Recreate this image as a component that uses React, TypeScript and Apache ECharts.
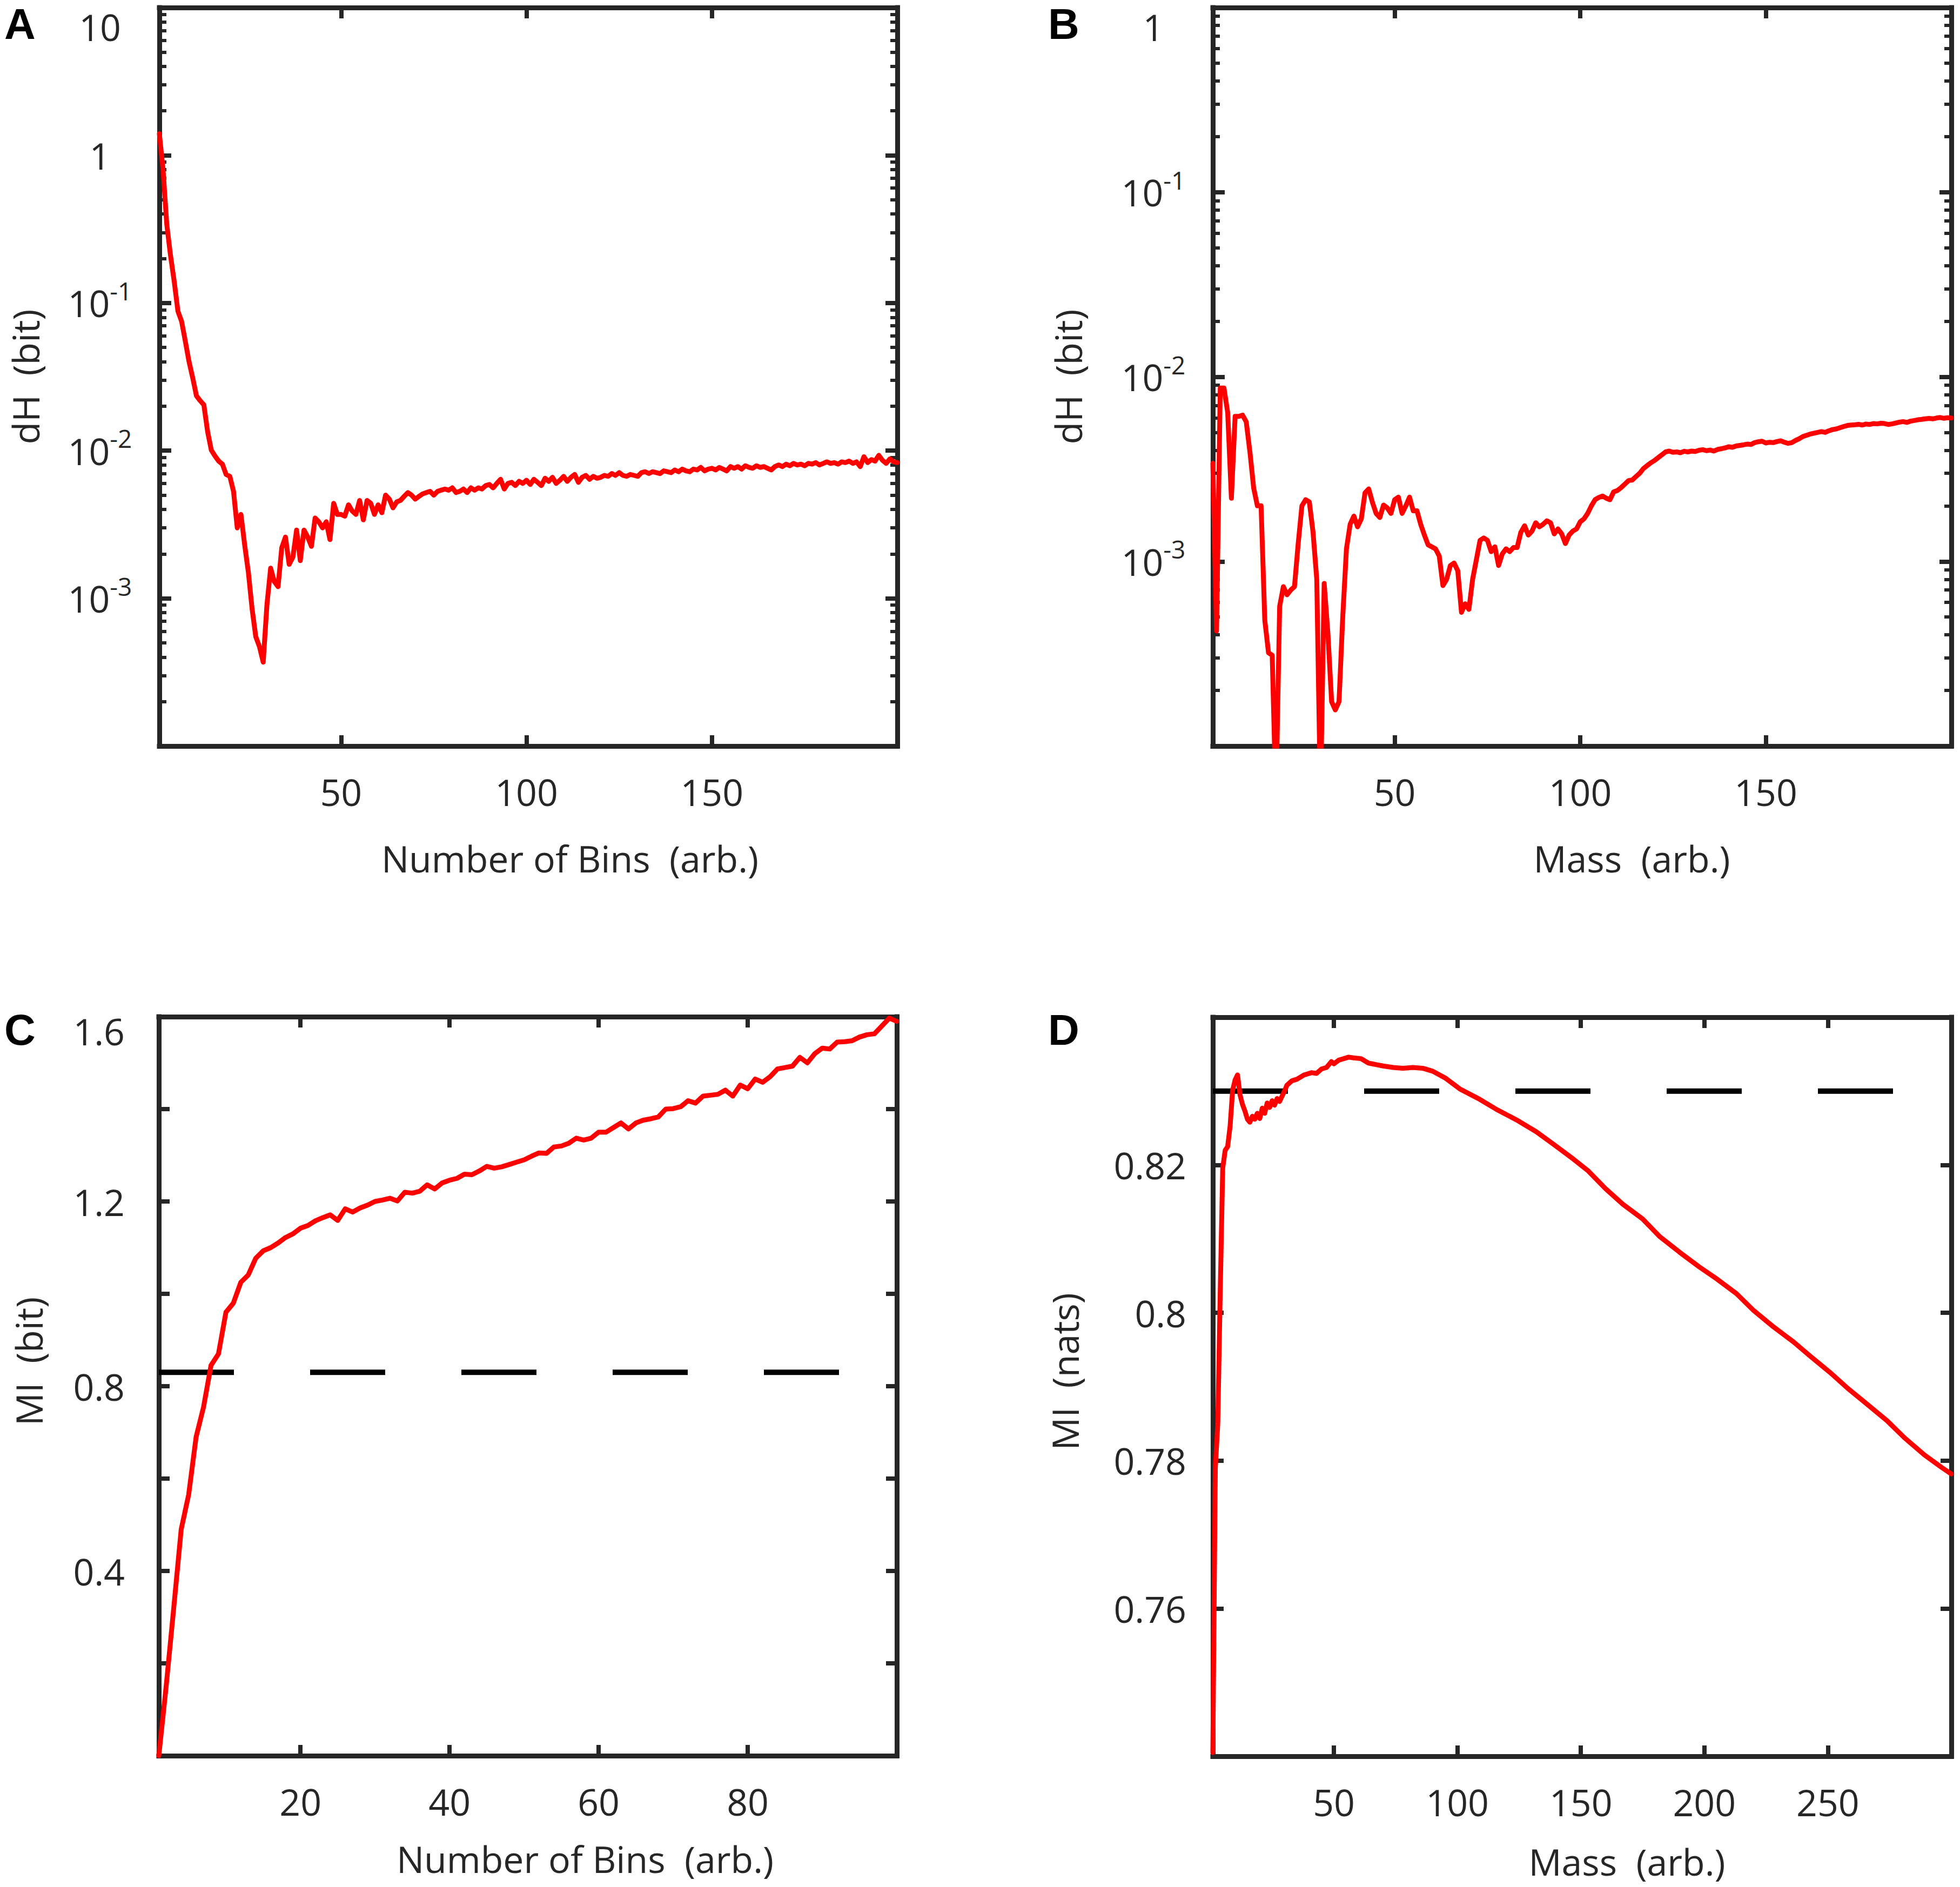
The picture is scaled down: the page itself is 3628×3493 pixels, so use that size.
import React, { useEffect, useRef } from 'react';
import * as echarts from 'echarts';

// ---------- Panel A: dH (bit) vs Number of Bins (1..200) ----------
const aDH = [
  1.40, 0.80, 0.34, 0.21, 0.14, 0.088, 0.075, 0.055, 0.040, 0.031,
  0.0235, 0.0218, 0.0204, 0.0135, 0.0101, 0.0092, 0.0085, 0.0081, 0.0069, 0.0067,
  0.0053, 0.0030, 0.0037, 0.0023, 0.0015, 0.00085, 0.00055, 0.00047, 0.00037, 0.0009,
  0.0016, 0.0013, 0.0012, 0.0022, 0.0026, 0.0017, 0.0019, 0.0029, 0.0018, 0.0029,
  0.0026, 0.00225, 0.0035, 0.0033, 0.0030, 0.0033, 0.0025, 0.0044, 0.0037, 0.0037,
  0.0036, 0.0043, 0.0039, 0.0037, 0.0046, 0.0034, 0.0046, 0.0044, 0.0037, 0.0043,
  0.0038, 0.0050, 0.0047, 0.0041, 0.0045, 0.0046, 0.0049, 0.0052, 0.0050, 0.0047,
  0.0049, 0.0051, 0.0052, 0.0053, 0.0050, 0.0053, 0.0054, 0.0055, 0.0054, 0.0056,
  0.0052, 0.0053, 0.0055, 0.0052, 0.0056, 0.0054, 0.0056, 0.0055, 0.0058, 0.0059,
  0.0056, 0.0060, 0.0064, 0.0055, 0.0060, 0.0061, 0.0058, 0.0062, 0.0060, 0.0063,
  0.0059, 0.0064, 0.0061, 0.0058, 0.0065, 0.0062, 0.0066, 0.0060, 0.0063, 0.0067,
  0.0062, 0.0066, 0.0069, 0.0061, 0.0066, 0.0068, 0.0064, 0.0067, 0.0065, 0.0066,
  0.0068, 0.0067, 0.0070, 0.0068, 0.0071, 0.0068, 0.0067, 0.0069, 0.0068, 0.0067,
  0.0071, 0.0072, 0.0070, 0.0072, 0.0071, 0.0070, 0.0073, 0.0072, 0.0071, 0.0074,
  0.0072, 0.0075, 0.0073, 0.0072, 0.0075, 0.0074, 0.0077, 0.0073, 0.0075, 0.0076,
  0.0074, 0.0077, 0.0075, 0.0073, 0.0078, 0.0076, 0.0078, 0.0075, 0.0079, 0.0077,
  0.0076, 0.0079, 0.0077, 0.0078, 0.0076, 0.0074, 0.0078, 0.0080, 0.0078, 0.0081,
  0.0079, 0.0082, 0.0080, 0.0081, 0.0079, 0.0082, 0.0081, 0.0083, 0.0080, 0.0082,
  0.0084, 0.0082, 0.0083, 0.0081, 0.0084, 0.0083, 0.0085, 0.0082, 0.0084, 0.0078,
  0.0091, 0.0083, 0.0087, 0.0085, 0.0093, 0.0086, 0.0082, 0.0088, 0.0084, 0.0083,
];
const aBins = aDH.map((_, i) => i + 1);
const aXTicks = [50, 100, 150];
const aYMajor = [1e-4, 1e-3, 1e-2, 1e-1, 1, 10];
const aYLabels = [1e-3, 1e-2, 1e-1, 1];
const aYTopLabel = [10];

// ---------- Panel B: dH (bit) vs Mass (1..200) ----------
const bDH = [
  0.0034, 0.00042, 0.0087, 0.0087, 0.0064, 0.0022, 0.0061, 0.0061, 0.0062, 0.0057,
  0.0039, 0.0025, 0.0020, 0.0020, 0.00048, 0.00032, 0.00031, 0.00005, 0.00057, 0.00073,
  0.00066, 0.00070, 0.00073, 0.00125, 0.0020, 0.00216, 0.0021, 0.00144, 0.0008, 0.00005,
  0.00076, 0.00041, 0.000174, 0.000157, 0.000174, 0.0005, 0.00117, 0.00159, 0.00176, 0.00154,
  0.0017, 0.00235, 0.00247, 0.00209, 0.00182, 0.00173, 0.00202, 0.00195, 0.00182, 0.00216,
  0.00223, 0.00182, 0.0020, 0.00223, 0.00188, 0.00188, 0.00159, 0.00139, 0.00123, 0.0012,
  0.00117, 0.00107, 0.00074, 0.0008, 0.00095, 0.00098, 0.00089, 0.00053, 0.00059, 0.00055,
  0.0008, 0.00102, 0.0013, 0.00134, 0.0013, 0.00113, 0.0012, 0.00095, 0.0011, 0.00117,
  0.00113, 0.00119, 0.00119, 0.00144, 0.00156, 0.00139, 0.00146, 0.00162, 0.00154, 0.00159,
  0.00166, 0.00162, 0.00141, 0.0015, 0.00141, 0.00125, 0.00139, 0.00146, 0.0015, 0.00164,
  0.00170, 0.00182, 0.00200, 0.00216, 0.00222, 0.00226, 0.00220, 0.00216, 0.00238, 0.00242,
  0.00251, 0.00262, 0.00274, 0.00276, 0.00288, 0.00300, 0.00318, 0.00330, 0.00342, 0.00352,
  0.00365, 0.00378, 0.00392, 0.00396, 0.00390, 0.00392, 0.00388, 0.00395, 0.00392, 0.00396,
  0.00394, 0.00400, 0.00403, 0.00398, 0.00401, 0.00396, 0.00404, 0.00408, 0.00412, 0.00418,
  0.00415, 0.00422, 0.00425, 0.00428, 0.00432, 0.00430, 0.00440, 0.00445, 0.00448, 0.00438,
  0.00442, 0.00440, 0.00446, 0.00450, 0.00442, 0.00436, 0.00440, 0.00452, 0.00462, 0.00475,
  0.00482, 0.00490, 0.00495, 0.00500, 0.00505, 0.00500, 0.00510, 0.00518, 0.00522, 0.00530,
  0.00538, 0.00545, 0.00548, 0.00550, 0.00553, 0.00548, 0.00555, 0.00552, 0.00558, 0.00556,
  0.00560, 0.00558, 0.00552, 0.00556, 0.00562, 0.00568, 0.00572, 0.00566, 0.00575, 0.00580,
  0.00585, 0.00588, 0.00592, 0.00595, 0.00592, 0.00598, 0.00602, 0.00596, 0.00600, 0.00598,
];
const bMass = bDH.map((_, i) => i + 1);
const bXTicks = [50, 100, 150];
const bYMajor = [1e-4, 1e-3, 1e-2, 1e-1, 1];
const bYLabels = [1e-3, 1e-2, 1e-1];
const bYTopLabel = [1];

// ---------- Panel C: MI (bit) vs Number of Bins (1..100) ----------
const cMI = [
  0, 0.153, 0.32, 0.49, 0.565, 0.69, 0.755, 0.845, 0.87, 0.96,
  0.98, 1.025, 1.041, 1.077, 1.093, 1.10, 1.11, 1.122, 1.13, 1.142,
  1.148, 1.158, 1.165, 1.171, 1.159, 1.184, 1.177, 1.186, 1.192, 1.200,
  1.203, 1.207, 1.201, 1.220, 1.218, 1.222, 1.236, 1.227, 1.240, 1.246,
  1.25, 1.259, 1.258, 1.266, 1.276, 1.272, 1.275, 1.28, 1.285, 1.29,
  1.298, 1.305, 1.304, 1.318, 1.32, 1.326, 1.337, 1.333, 1.337, 1.35,
  1.35, 1.36, 1.37, 1.357, 1.37, 1.376, 1.379, 1.383, 1.40, 1.401,
  1.405, 1.418, 1.413, 1.428, 1.43, 1.432, 1.441, 1.428, 1.452, 1.444,
  1.465, 1.458, 1.47, 1.487, 1.49, 1.493, 1.512, 1.50, 1.52, 1.532,
  1.53, 1.545, 1.546, 1.548, 1.556, 1.561, 1.563, 1.58, 1.597, 1.59,
];
const cBins = cMI.map((_, i) => i + 1);
const cRef = 0.83;
const cXTicks = [20, 40, 60, 80];
const cYTicks = [0.2, 0.4, 0.6, 0.8, 1.0, 1.2, 1.4];
const cYLabels = [0.4, 0.8, 1.2];
const cYTopLabel = [1.6];

// ---------- Panel D: MI (nats) vs Mass (1..300) ----------
const dMass = [
  1, 2, 3, 4, 5, 6, 7, 8, 9, 10, 11, 12, 13, 14, 15, 16, 17, 18, 19, 20,
  21, 22, 23, 24, 25, 26, 27, 28, 29, 30, 31, 33, 35, 38, 41, 43, 45, 47, 49, 50,
  52, 54, 56, 58, 61, 64, 67, 70, 74, 78, 82, 86, 90, 95, 101, 109, 116, 124, 132, 139,
  147, 153, 160, 167, 175, 182, 190, 198, 205, 213, 220, 228, 236, 243, 251, 258, 266, 274, 281, 289,
  296, 300,
];
const dMI = [
  0.7405, 0.779, 0.785, 0.803, 0.8196, 0.822, 0.8225, 0.8253, 0.8301, 0.8315,
  0.8322, 0.8295, 0.8282, 0.8273, 0.8262, 0.8258, 0.8266, 0.8262, 0.8270, 0.8263,
  0.8277, 0.8270, 0.8284, 0.8278, 0.8287, 0.8281, 0.8290, 0.8286, 0.8293, 0.8300,
  0.8308, 0.8314, 0.8316, 0.8322, 0.8325, 0.8324, 0.8330, 0.8332, 0.8340, 0.8337,
  0.8342, 0.8344, 0.8346, 0.8345, 0.8344, 0.8338, 0.8336, 0.8334, 0.8332, 0.8331,
  0.8332, 0.8331, 0.8327, 0.8318, 0.8303, 0.8289, 0.8275, 0.8261, 0.8245, 0.8228,
  0.8208, 0.8192, 0.8168, 0.8147, 0.8127, 0.8103, 0.8082, 0.8062, 0.8046, 0.8026,
  0.8003, 0.7981, 0.7961, 0.7941, 0.7919, 0.7898, 0.7876, 0.7854, 0.7831, 0.7808,
  0.7791, 0.7782,
];
const dRef = 0.83;
const dXTicks = [50, 100, 150, 200, 250];
const dYTicks = [0.76, 0.78, 0.8, 0.82];
const dYLabels = [0.76, 0.78, 0.8, 0.82];

// ---------- styling ----------
const INK = '#262626';
const FONT = 'Open Sans';
const FS = 68;
const AXW = 9;
const TKW = 8;

function logMinors(fromExp: number, toExp: number) {
  const out: number[] = [];
  for (let k = fromExp; k < toExp; k++) {
    for (let m = 2; m <= 9; m++) out.push(+(m * Math.pow(10, k)).toPrecision(3));
  }
  return out;
}

function xPair(gridIndex: number, min: number, max: number, ticks: number[], name: string, nameGap: number, shift: number) {
  const base: any = {
    type: 'value', gridIndex, min, max,
    splitLine: { show: false },
    axisLine: { show: true, onZero: false, lineStyle: { color: INK, width: AXW, cap: 'square' } },
    axisTick: { show: true, inside: true, length: 20, customValues: ticks, lineStyle: { color: INK, width: TKW } },
  };
  return [
    {
      ...base, position: 'bottom',
      axisLabel: { show: true, customValues: ticks, margin: 50, color: INK, fontFamily: FONT, fontSize: FS },
      name, nameLocation: 'middle', nameGap,
      nameTextStyle: { color: INK, fontFamily: FONT, fontSize: FS, align: 'center', verticalAlign: 'middle', padding: [0, 0, 0, shift * 2] },
    },
    { ...base, position: 'top', axisLabel: { show: false } },
  ];
}

function supLabel(v: number) {
  const e = Math.round(Math.log10(v));
  if (e >= 0) return String(Math.round(v));
  return '{b|10}{s|' + e + '}';
}

// label-only axis for the top-most tick label, which sits just below the top edge
function topLabelAxis(type: string, gridIndex: number, min: number, max: number, labels: number[], margin: number, align: string, lineHeight: number, fmt: (v: number) => string) {
  const ax: any = {
    type, gridIndex, min, max, position: 'left', splitLine: { show: false },
    axisLine: { show: false }, axisTick: { show: false },
    axisLabel: {
      show: true, customValues: labels, margin, align, verticalAlign: 'top', lineHeight,
      color: INK, fontFamily: FONT, fontSize: FS, formatter: fmt,
    },
  };
  if (type === 'log') ax.logBase = 10;
  return ax;
}

function logYAxes(gridIndex: number, min: number, max: number, major: number[], labels: number[], top: number[], minors: number[], name: string, nameGap: number) {
  const common: any = { type: 'log', logBase: 10, gridIndex, min, max, splitLine: { show: false } };
  const line = { show: true, onZero: false, lineStyle: { color: INK, width: AXW, cap: 'square' } };
  const majTick = { show: true, inside: true, length: 22, customValues: major, lineStyle: { color: INK, width: TKW } };
  const minTick = { show: true, inside: true, length: 13, customValues: minors, lineStyle: { color: INK, width: 6 } };
  return [
    {
      ...common, position: 'left', axisLine: line, axisTick: majTick,
      axisLabel: {
        show: true, customValues: labels, margin: 110, align: 'center', color: INK, fontFamily: FONT, fontSize: FS,
        formatter: supLabel,
        rich: {
          b: { fontFamily: FONT, fontSize: FS, color: INK, lineHeight: 92 },
          s: { fontFamily: FONT, fontSize: 46, color: INK, lineHeight: 46, verticalAlign: 'top' },
        },
      },
      name, nameLocation: 'middle', nameGap,
      nameTextStyle: { color: INK, fontFamily: FONT, fontSize: FS, align: 'center', verticalAlign: 'middle' },
    },
    { ...common, position: 'left', axisLine: { show: false }, axisTick: minTick, axisLabel: { show: false } },
    { ...common, position: 'right', axisLine: line, axisTick: majTick, axisLabel: { show: false } },
    { ...common, position: 'right', axisLine: { show: false }, axisTick: minTick, axisLabel: { show: false } },
    topLabelAxis('log', gridIndex, min, max, top, 110, 'center', 70, supLabel),
  ];
}

function linYAxes(gridIndex: number, min: number, max: number, ticks: number[], labels: number[], top: number[], margin: number, fmt: (v: number) => string, name: string, nameGap: number, shift: number) {
  const common: any = {
    type: 'value', gridIndex, min, max, splitLine: { show: false },
    axisLine: { show: true, onZero: false, lineStyle: { color: INK, width: AXW, cap: 'square' } },
    axisTick: { show: true, inside: true, length: 20, customValues: ticks, lineStyle: { color: INK, width: TKW } },
  };
  const axes: any[] = [
    {
      ...common, position: 'left',
      axisLabel: { show: true, customValues: labels, margin, color: INK, fontFamily: FONT, fontSize: FS, formatter: fmt },
      name, nameLocation: 'middle', nameGap,
      nameTextStyle: { color: INK, fontFamily: FONT, fontSize: FS, align: 'center', verticalAlign: 'middle', padding: [0, 0, 0, shift * 2] },
    },
    { ...common, position: 'right', axisLabel: { show: false } },
  ];
  if (top.length) axes.push(topLabelAxis('value', gridIndex, min, max, top, margin, 'right', 52, fmt));
  return axes;
}

function redLine(xAxisIndex: number, yAxisIndex: number, xs: number[], ys: number[]) {
  return {
    type: 'line', xAxisIndex, yAxisIndex, data: xs.map((x, i) => [x, ys[i]]),
    symbol: 'none', showSymbol: false, clip: true, z: 3,
    lineStyle: { color: '#ff0000', width: 9, join: 'round', cap: 'round' },
  };
}

function refLine(xAxisIndex: number, yAxisIndex: number, x0: number, x1: number, y: number) {
  return {
    type: 'line', xAxisIndex, yAxisIndex, data: [[x0, y], [x1, y]],
    symbol: 'none', showSymbol: false, clip: true, z: 2,
    lineStyle: { color: '#000000', width: 10, type: [139, 141], cap: 'butt' },
  };
}

function letter(text: string, left: number, top: number) {
  return {
    type: 'text', left, top, z: 10,
    style: { text, fill: '#000', font: 'bold 80px "Liberation Sans", Arial, sans-serif' },
  };
}

function grid(left: number, top: number, width: number, height: number) {
  return { left, top, width, height, containLabel: false, outerBoundsMode: 'none' };
}

export default function App() {
  const ref = useRef<HTMLDivElement>(null);
  useEffect(() => {
    document.body.style.margin = '0';
    if (!ref.current) return;
    const chart = echarts.init(ref.current, undefined, { renderer: 'svg' });
    // yAxis indices: A 0-4, B 5-9, C 10-12, D 13-14
    const option: any = {
      animation: false,
      backgroundColor: '#ffffff',
      textStyle: { fontFamily: FONT },
      grid: [
        grid(295, 14, 1366, 1367),
        grid(2245, 14, 1367, 1367),
        grid(294, 1882, 1366, 1368),
        grid(2245, 1883, 1367, 1368),
      ],
      xAxis: [
        ...xPair(0, 1, 200, aXTicks, 'Number of Bins  (arb.)', 207, 77),
        ...xPair(1, 1, 200, bXTicks, 'Mass  (arb.)', 207, 92),
        ...xPair(2, 1, 100, cXTicks, 'Number of Bins  (arb.)', 190, 106),
        ...xPair(3, 1, 300, dXTicks, 'Mass  (arb.)', 194, 83),
      ],
      yAxis: [
        ...logYAxes(0, 1e-4, 10, aYMajor, aYLabels, aYTopLabel, logMinors(-4, 1), 'dH  (bit)', 249),
        ...logYAxes(1, 1e-4, 1, bYMajor, bYLabels, bYTopLabel, logMinors(-4, 0), 'dH  (bit)', 269),
        ...linYAxes(2, 0, 1.6, cYTicks, cYLabels, cYTopLabel, 63, (v: number) => v.toFixed(1), 'MI  (bit)', 242, 46),
        ...linYAxes(3, 0.74, 0.84, dYTicks, dYLabels, [], 49, (v: number) => String(+v.toFixed(2)), 'MI  (nats)', 275, 28),
      ],
      series: [
        redLine(0, 0, aBins, aDH),
        redLine(2, 5, bMass, bDH),
        refLine(4, 10, 1, 100, cRef),
        redLine(4, 10, cBins, cMI),
        refLine(6, 13, 1, 300, dRef),
        redLine(6, 13, dMass, dMI),
      ],
      graphic: [
        letter('A', 8, 4),
        letter('B', 1940, 4),
        letter('C', 8, 1866),
        letter('D', 1940, 1866),
      ],
    };
    chart.setOption(option);
    return () => chart.dispose();
  }, []);
  return <div ref={ref} style={{ width: 3628, height: 3493 }} />;
}
